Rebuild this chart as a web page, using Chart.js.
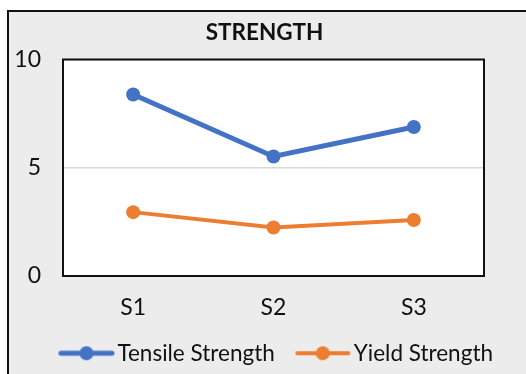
<!DOCTYPE html>
<html>
<head>
<meta charset="utf-8">
<script src="https://cdn.jsdelivr.net/npm/chart.js@4/dist/chart.umd.min.js"></script>
<style>
  html, body { margin: 0; padding: 0; background: #ffffff; }
  #wrap { width: 526px; height: 374px; }
</style>
</head>
<body>
<div id="wrap"><canvas id="chart" width="526" height="374"></canvas></div>
<script>
// Sample labels and measured strengths
const categories = ['S1', 'S2', 'S3'];
const tensileStrength = [8.38, 5.52, 6.88];
const yieldStrength = [2.95, 2.24, 2.59];
const yTicks = [0, 5, 10];

const BLUE = '#4472C4';
const ORANGE = '#ED7D31';
const TEXT = '#111111';
const FONT = 'Lato, "Open Sans", sans-serif';

// Legend marker: a short line with a dot in the middle.
// The image is wider than the legend box so the line sits close to the text.
function legendMarker(color, lineW) {
  const c = document.createElement('canvas');
  c.width = 64; c.height = 16;
  const g = c.getContext('2d');
  const a = 7.1, b = 63.1;
  g.strokeStyle = color;
  g.lineWidth = lineW;
  g.lineCap = 'round';
  g.beginPath();
  g.moveTo(a + 2.5, 8); g.lineTo(b - 2.5, 8);
  g.stroke();
  g.fillStyle = color;
  g.beginPath();
  g.arc((a + b) / 2, 8, 7, 0, Math.PI * 2);
  g.fill();
  return c;
}

// Frame, grey chart background and white plot area
const framePlugin = {
  id: 'frame',
  beforeDraw(chart) {
    const { ctx, chartArea: a } = chart;
    ctx.save();
    ctx.fillStyle = '#ffffff';
    ctx.fillRect(0, 0, chart.width, chart.height);
    ctx.fillStyle = '#ececec';
    ctx.fillRect(8, 11, chart.width + 20, chart.height + 20);
    ctx.strokeStyle = '#111111';
    ctx.lineWidth = 2;
    ctx.strokeRect(8, 11, chart.width + 20, chart.height + 20);
    ctx.fillStyle = '#ffffff';
    ctx.fillRect(a.left, a.top, a.right - a.left, a.bottom - a.top);
    ctx.restore();
  },
  beforeDatasetsDraw(chart) {
    const { ctx, chartArea: a } = chart;
    ctx.save();
    ctx.strokeStyle = '#111111';
    ctx.lineWidth = 2;
    ctx.strokeRect(a.left, a.top, a.right - a.left, a.bottom - a.top);
    ctx.restore();
  }
};

new Chart(document.getElementById('chart'), {
  type: 'line',
  data: {
    labels: categories,
    datasets: [
      {
        label: 'Tensile Strength',
        data: tensileStrength,
        yAxisID: 'y',
        borderColor: BLUE,
        backgroundColor: BLUE,
        borderWidth: 5,
        pointRadius: 7,
        pointHoverRadius: 7,
        pointBorderWidth: 0,
        pointBackgroundColor: BLUE,
        tension: 0
      },
      {
        label: 'Yield Strength',
        data: yieldStrength,
        yAxisID: 'y',
        borderColor: ORANGE,
        backgroundColor: ORANGE,
        borderWidth: 4,
        pointRadius: 7,
        pointHoverRadius: 7,
        pointBorderWidth: 0,
        pointBackgroundColor: ORANGE,
        tension: 0
      }
    ]
  },
  options: {
    responsive: false,
    animation: false,
    devicePixelRatio: 1,
    layout: { padding: { left: 14, right: 11, top: 0, bottom: -0.5 } },
    plugins: {
      tooltip: { enabled: false },
      title: {
        display: true,
        text: 'STRENGTH',
        color: TEXT,
        font: { family: FONT, size: 22.5, weight: 'bold', lineHeight: 1 },
        padding: { top: 21, bottom: 16 }
      },
      legend: {
        display: true,
        position: 'bottom',
        align: 'end',
        labels: {
          color: TEXT,
          font: { family: FONT, size: 22.5 },
          usePointStyle: true,
          pointStyleWidth: 45.75,
          padding: 22,
          generateLabels(chart) {
            return chart.data.datasets.map((ds, i) => ({
              text: ds.label,
              fontColor: TEXT,
              pointStyle: legendMarker(ds.borderColor, ds.borderWidth),
              datasetIndex: i,
              hidden: false,
              lineWidth: 0,
              strokeStyle: 'transparent',
              fillStyle: ds.borderColor
            }));
          }
        }
      }
    },
    scales: {
      x: {
        offset: true,
        grid: { display: false, drawTicks: false, offset: true },
        border: { display: false },
        ticks: { color: TEXT, font: { family: FONT, size: 23, lineHeight: 1 }, padding: 20.5 },
        afterFit(scale) { scale.height = 44; }
      },
      y: {
        position: 'left',
        min: 0,
        max: 10,
        afterBuildTicks(scale) { scale.ticks = yTicks.map(v => ({ value: v })); },
        grid: { color: '#d9d9d9', lineWidth: 1.5, drawTicks: false },
        border: { display: false },
        ticks: { color: TEXT, font: { family: FONT, size: 23 }, padding: 22 },
        afterFit(scale) { scale.width = 49; }
      },
      // empty right-hand margin beside the plot
      yRight: {
        position: 'right',
        display: true,
        grid: { display: false, drawTicks: false },
        border: { display: false },
        ticks: { display: false },
        afterFit(scale) { scale.width = 31; }
      }
    }
  },
  plugins: [framePlugin]
});
</script>
</body>
</html>
